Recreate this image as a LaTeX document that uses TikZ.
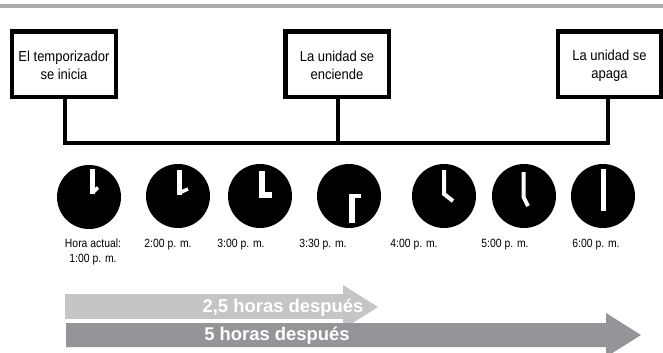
\documentclass[tikz,border=0pt]{standalone}
\usepackage{fontspec}
\setmainfont{Liberation Sans}
\newfontfamily\narrowsans[FakeStretch=0.9]{Liberation Sans}
\newfontfamily\timesans[FakeStretch=0.87]{Liberation Sans}
\definecolor{lightarrow}{HTML}{C4C5C7}
\definecolor{darkarrow}{HTML}{939598}
\definecolor{rulegray}{HTML}{ABABAB}
\newcommand{\boxstrut}{\rule{0pt}{14pt}}
\tikzset{
  eventbox/.style={draw=black,line width=4.5bp,fill=white,minimum width=103.5bp,minimum height=65.5bp,inner sep=0pt,outer sep=0pt,align=center,font=\narrowsans\fontsize{14.5}{18}\selectfont},
  clockface/.style={circle,fill=black,minimum size=64bp,inner sep=0pt,outer sep=0pt},
  hand/.style={draw=white,line width=#1,line cap=butt,line join=miter},
  hand/.default=5bp,
  timelabel/.style={inner sep=0pt,align=center,font=\timesans\fontsize{12}{15}\selectfont},
  bus/.style={draw=black,line width=4bp,line join=miter},
  spanlabel/.style={inner sep=0pt,text=white,font=\fontsize{18.5}{20}\selectfont\bfseries}
}
\begin{document}
\begin{tikzpicture}[x=1bp,y=-1bp]
\useasboundingbox (0,0) rectangle (663,352);
\clip (0,0) rectangle (663,352);
\fill[rulegray] (0,4) rectangle (663,7.5);
% event boxes
\node[eventbox] (start) at (64,64) {\boxstrut El temporizador\\se inicia};
\node[eventbox] (on) at (337,64) {\boxstrut La unidad se\\enciende};
\node[eventbox] (off) at (609.5,64) {\boxstrut La unidad se\\apaga};
\draw[bus] (start.south -| 65,0) -- (65,143) -- (338,143) -- (on.south -| 338,0);
\draw[bus] (338,143) -- (608,143) -- (off.south -| 608,0);
% clocks
\node[clockface] (c1) at (89,197) {};
\node[clockface] (c2) at (178,196) {};
\node[clockface] (c3) at (260,196) {};
\node[clockface] (c4) at (349,196) {};
\node[clockface] (c5) at (444,196) {};
\node[clockface] (c6) at (524,196) {};
\node[clockface] (c7) at (603,196) {};
\draw[hand] (92.3,169) -- (92.3,194);
\draw[hand=3.5bp] (92.3,193) -- (98,187.5);
\draw[hand] (179,170) -- (179,195);
\draw[hand=3.5bp] (179,193) -- (188,189);
\draw[hand=6bp] (262,171) -- (262,195) -- (272,195);
\draw[hand=6bp] (352,223) -- (352,194);
\draw[hand=4bp] (349,196) -- (361,196);
\draw[hand=4bp] (444,170) -- (444,194) -- (453,201);
\draw[hand=4bp] (523.5,172) -- (523.5,197) -- (528,206);
\draw[hand] (603,169) -- (603,211);
% time labels
\node[timelabel] (t1) at (93,252) {Hora actual:\\1:00 p. m.};
\node[timelabel] (t2) at (168,244.5) {2:00 p. m.};
\node[timelabel] (t3) at (241,244.5) {3:00 p. m.};
\node[timelabel] (t4) at (323,244.5) {3:30 p. m.};
\node[timelabel] (t5) at (414,244.5) {4:00 p. m.};
\node[timelabel] (t6) at (505,244.5) {5:00 p. m.};
\node[timelabel] (t7) at (596,244.5) {6:00 p. m.};
% span arrows
\fill[lightarrow] (65,294) -- (343,294) -- (343,285) -- (378,307) -- (343,329) -- (343,319) -- (65,319) -- cycle;
\fill[white] (65,319) rectangle (343,323);
\fill[darkarrow] (66,323) -- (606,323) -- (606,313) -- (641,335) -- (606,357) -- (606,347) -- (66,347) -- cycle;
\node[spanlabel] (s1) at (283,308) {2,5 horas después};
\node[spanlabel] (s2) at (277,336) {5 horas después};
\end{tikzpicture}
\end{document}
